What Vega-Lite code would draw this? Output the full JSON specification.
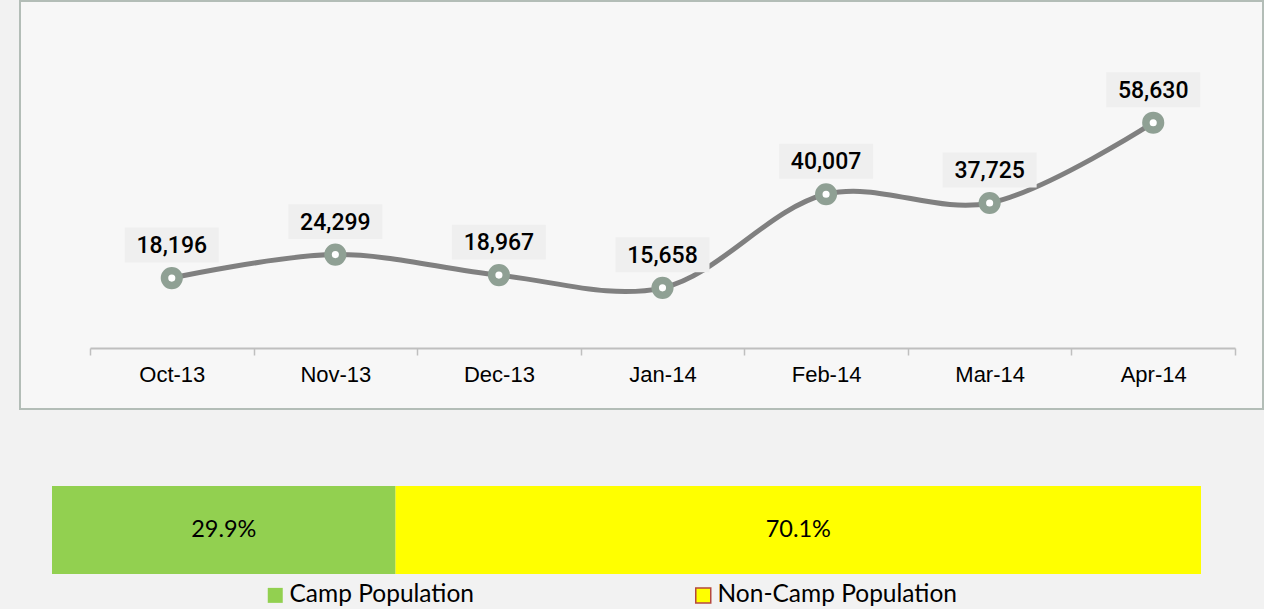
{
  "$schema": "https://vega.github.io/schema/vega-lite/v6.json",
  "background": "#f2f2f2",
  "padding": {"left": 19, "top": 0, "right": 0, "bottom": 4},
  "spacing": 76,
  "config": {"view": {"stroke": null}},
  "vconcat": [
    {
      "width": 1243,
      "height": 408,
      "view": {"fill": "#f7f7f7", "stroke": "#b3bdb7", "strokeWidth": 2},
      "data": {"values": [
        {"month": "Oct-13", "value": 18196},
        {"month": "Nov-13", "value": 24299},
        {"month": "Dec-13", "value": 18967},
        {"month": "Jan-14", "value": 15658},
        {"month": "Feb-14", "value": 40007},
        {"month": "Mar-14", "value": 37725},
        {"month": "Apr-14", "value": 58630}
      ]},
      "encoding": {
        "x": {
          "field": "month", "type": "nominal", "sort": null,
          "scale": {"range": [70, 1215], "paddingInner": 0, "paddingOuter": 0},
          "axis": {
            "title": null, "orient": "bottom", "offset": -61,
            "domainColor": "#bfbfbf", "domainWidth": 2,
            "tickColor": "#bfbfbf", "tickWidth": 1.5, "tickSize": 7, "tickBand": "extent",
            "labelFont": "Liberation Sans", "labelFontSize": 22, "labelColor": "#000000",
            "labelPadding": 9, "labelAngle": 0, "grid": false
          }
        },
        "y": {
          "field": "value", "type": "quantitative",
          "scale": {"domain": [0, 70000], "range": [347, 78], "nice": false, "zero": true},
          "axis": null
        }
      },
      "layer": [
        {"mark": {"type": "line", "interpolate": "catmull-rom", "color": "#808080", "strokeWidth": 5}},
        {"mark": {"type": "point", "filled": true, "fill": "#ffffff", "stroke": "#8fa094", "strokeWidth": 7.5, "size": 214, "opacity": 1}},
        {"mark": {"type": "point", "shape": "M-1,-0.372L1,-0.372L1,0.372L-1,0.372Z", "size": 8836, "filled": true, "color": "#efefef", "opacity": 1, "yOffset": -33}},
        {
          "mark": {"type": "text", "font": "Roboto", "fontSize": 23, "fontWeight": 500, "color": "#000000", "baseline": "middle", "dy": -32},
          "encoding": {"text": {"field": "value", "type": "quantitative", "format": ","}}
        }
      ]
    },
    {
      "width": 1181,
      "height": 88,
      "data": {"values": [
        {"group": "Camp Population", "pct": 29.9},
        {"group": "Non-Camp Population", "pct": 70.1}
      ]},
      "transform": [
        {"stack": "pct", "groupby": [], "sort": [{"field": "group"}], "as": ["x0", "x1"]},
        {"calculate": "(datum.x0 + datum.x1) / 2", "as": "mid"},
        {"calculate": "format(datum.pct, '.1f') + '%'", "as": "label"}
      ],
      "layer": [
        {
          "mark": {"type": "rect"},
          "encoding": {
            "x": {"field": "x0", "type": "quantitative", "scale": {"domain": [0, 100], "range": [32, 1181], "nice": false}, "axis": null},
            "x2": {"field": "x1"},
            "color": {
              "field": "group", "type": "nominal",
              "scale": {"domain": ["Camp Population", "Non-Camp Population"], "range": ["#92d050", "#ffff00"]},
              "legend": {
                "orient": "none", "legendX": 243, "legendY": 582, "direction": "horizontal",
                "title": null, "symbolType": "square", "symbolSize": 225, "symbolStrokeWidth": 1.5,
                "labelFont": "Lato", "labelFontSize": 24.5, "labelColor": "#000000", "labelLimit": 400,
                "labelOffset": 2, "columnPadding": 217, "padding": 0,
                "encode": {"symbols": {"update": {"stroke": {"signal": "datum.value === 'Non-Camp Population' ? '#b5483f' : 'transparent'"}}}}
              }
            }
          }
        },
        {
          "mark": {"type": "text", "font": "Lato", "fontSize": 23.5, "color": "#000000", "baseline": "middle"},
          "encoding": {
            "x": {"field": "mid", "type": "quantitative"},
            "text": {"field": "label", "type": "nominal"}
          }
        }
      ]
    }
  ]
}
